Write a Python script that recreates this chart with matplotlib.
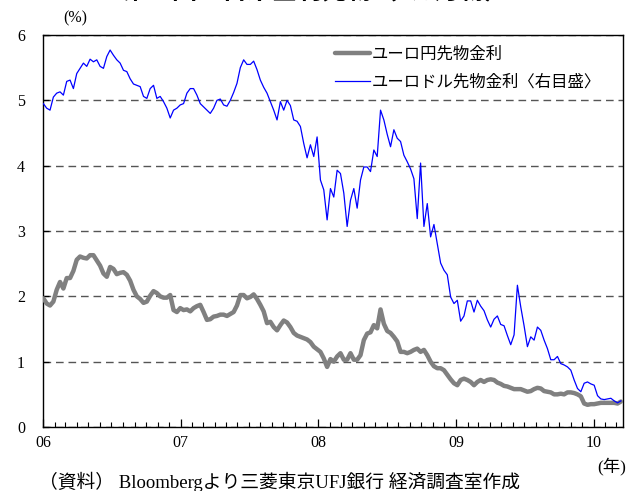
import matplotlib
matplotlib.use("Agg")
import matplotlib.pyplot as plt
import matplotlib.dates as mdates
import pandas as pd

plt.rcParams['font.family'] = ['Liberation Serif', 'Noto Sans CJK JP']

# observation window (evenly spaced readings)
start_date = '2006-01-02'
end_date = '2010-03-14'

# Euroyen 3M futures rate (%)
yen_futures = [
    1.97, 1.89, 1.86, 1.92, 2.10, 2.22, 2.12, 2.28, 2.28, 2.39,
    2.56, 2.61, 2.59, 2.58, 2.63, 2.63, 2.55, 2.47, 2.35, 2.30,
    2.45, 2.42, 2.34, 2.36, 2.37, 2.33, 2.24, 2.10, 2.00, 1.96,
    1.90, 1.92, 2.01, 2.08, 2.05, 2.00, 1.98, 1.98, 2.02, 1.79,
    1.76, 1.82, 1.79, 1.80, 1.77, 1.82, 1.85, 1.87, 1.76, 1.64,
    1.65, 1.69, 1.70, 1.72, 1.72, 1.70, 1.73, 1.76, 1.86, 2.02,
    2.02, 1.97, 1.99, 2.03, 1.96, 1.87, 1.77, 1.59, 1.61, 1.53,
    1.48, 1.56, 1.63, 1.60, 1.53, 1.44, 1.40, 1.38, 1.36, 1.34,
    1.30, 1.23, 1.19, 1.15, 1.05, 0.92, 1.04, 1.00, 1.08, 1.13,
    1.03, 1.03, 1.13, 1.03, 1.03, 1.10, 1.33, 1.43, 1.45, 1.56,
    1.51, 1.80, 1.58, 1.47, 1.44, 1.38, 1.31, 1.15, 1.15, 1.13,
    1.15, 1.18, 1.20, 1.15, 1.18, 1.10, 1.00, 0.93, 0.90, 0.90,
    0.87, 0.80, 0.73, 0.67, 0.64, 0.72, 0.74, 0.72, 0.69, 0.64,
    0.69, 0.72, 0.69, 0.72, 0.73, 0.72, 0.68, 0.66, 0.63, 0.62,
    0.60, 0.58, 0.58, 0.58, 0.56, 0.54, 0.55, 0.58, 0.60, 0.59,
    0.55, 0.54, 0.53, 0.50, 0.50, 0.51, 0.50, 0.53, 0.53, 0.52,
    0.50, 0.47, 0.36, 0.34, 0.35, 0.35, 0.36, 0.37, 0.37, 0.37,
    0.37, 0.37, 0.36, 0.39,
]

# Eurodollar 3M futures rate (%)
usd_futures = [
    4.95, 4.88, 4.85, 5.05, 5.11, 5.13, 5.08, 5.29, 5.31, 5.18,
    5.41, 5.49, 5.57, 5.52, 5.63, 5.59, 5.62, 5.52, 5.49, 5.67,
    5.77, 5.69, 5.62, 5.57, 5.46, 5.44, 5.33, 5.25, 5.23, 5.21,
    5.06, 5.03, 5.18, 5.23, 5.03, 5.06, 4.98, 4.88, 4.73, 4.85,
    4.88, 4.93, 4.95, 5.11, 5.18, 5.18, 5.08, 4.95, 4.90, 4.85,
    4.80, 4.88, 5.00, 5.02, 4.93, 4.91, 5.00, 5.12, 5.26, 5.50,
    5.62, 5.55, 5.55, 5.60, 5.47, 5.31, 5.20, 5.11, 4.98, 4.85,
    4.70, 4.98, 4.85, 5.00, 4.92, 4.70, 4.68, 4.60, 4.34, 4.12,
    4.32, 4.14, 4.44, 3.78, 3.63, 3.17, 3.65, 3.52, 3.93, 3.88,
    3.58, 3.07, 3.47, 3.65, 3.35, 3.78, 3.98, 3.98, 3.91, 4.24,
    4.14, 4.85, 4.70, 4.48, 4.29, 4.55, 4.42, 4.37, 4.16, 4.06,
    3.95, 3.80, 3.19, 4.04, 3.07, 3.42, 2.91, 3.10, 2.80, 2.51,
    2.40, 2.33, 1.99, 1.89, 1.94, 1.62, 1.70, 1.93, 1.93, 1.76,
    1.94, 1.85, 1.78, 1.64, 1.53, 1.65, 1.70, 1.57, 1.55, 1.40,
    1.26, 1.41, 2.17, 1.84, 1.55, 1.23, 1.38, 1.33, 1.53, 1.48,
    1.33, 1.20, 1.03, 1.03, 1.08, 0.97, 0.95, 0.92, 0.87, 0.72,
    0.59, 0.54, 0.67, 0.69, 0.66, 0.64, 0.48, 0.43, 0.42, 0.43,
    0.44, 0.40, 0.37, 0.40,
]

series_labels = ['ユーロ円先物金利', 'ユーロドル先物金利〈右目盛〉']
year_ticks = ['2006-01-01', '2007-01-01', '2008-01-01', '2009-01-01', '2010-01-01']
year_labels = ['06', '07', '08', '09', '10']
y_ticks = [0, 1, 2, 3, 4, 5, 6]

dates = pd.date_range(start_date, end_date, periods=len(yen_futures))

fig = plt.figure(figsize=(6.32, 4.91), dpi=100)
ax = fig.add_axes([0.068, 0.1303, 0.918, 0.7984])

ax.plot(dates, yen_futures, color='#808080', lw=3.2, label=series_labels[0],
        solid_joinstyle='round', solid_capstyle='round', zorder=3)
ax.plot(dates, usd_futures, color='#0000ff', lw=0.9, label=series_labels[1], zorder=4)

ax.set_ylim(0, 6)
ax.set_xlim(pd.Timestamp('2006-01-01'), pd.Timestamp('2010-03-20'))

ax.set_yticks(y_ticks)
ax.set_yticklabels([str(v) for v in y_ticks])
ax.yaxis.grid(True, linestyle=(0, (5.5, 3.5)), color='#555555', lw=1.0)
ax.set_axisbelow(True)

ax.set_xticks(pd.to_datetime(year_ticks))
ax.set_xticklabels(year_labels)
ax.xaxis.set_minor_locator(mdates.MonthLocator())

ax.tick_params(axis='x', which='major', direction='in', length=6, width=0.9,
               pad=6, labelsize=11.5)
ax.tick_params(axis='x', which='minor', direction='in', length=3.5, width=0.8)
ax.tick_params(axis='y', which='major', direction='in', length=4, width=0.9,
               pad=13, labelsize=11.5)

for s in ax.spines.values():
    s.set_linewidth(1.0)
    s.set_color('black')

leg = ax.legend(loc='upper left', bbox_to_anchor=(0.487, 0.995), frameon=False,
                fontsize=11.8, handlelength=2.1, handletextpad=0.1,
                labelspacing=0.7, borderaxespad=0.2)

fig.text(0.5, 1.016, '第16図：日米金利先物（3カ月物）', ha='center', va='center',
         fontsize=18, fontweight='bold')
fig.text(0.119, 0.963, '(%)', ha='center', va='center', fontsize=11.5)
fig.text(0.968, 0.051, '(年)', ha='center', va='center', fontsize=12.5)
fig.text(0.062, 0.018, '（資料） Bloombergより三菱東京UFJ銀行 経済調査室作成',
         ha='left', va='center', fontsize=13.5)

fig.savefig('out.png', dpi=100)
